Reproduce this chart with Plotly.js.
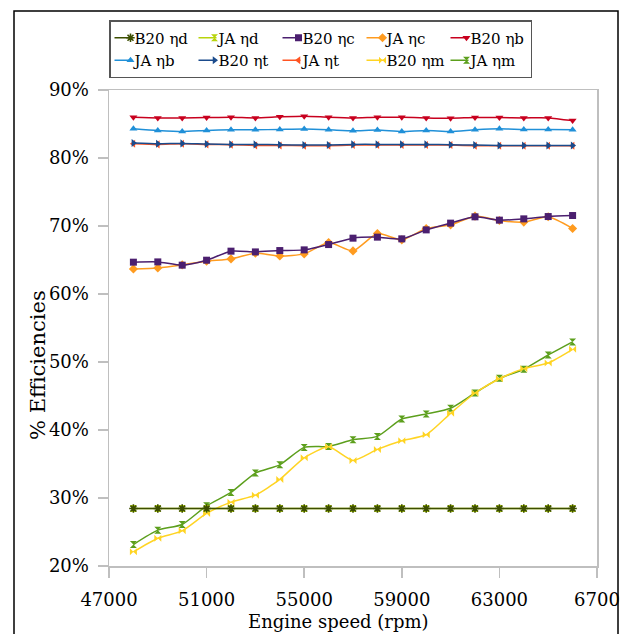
<!DOCTYPE html>
<html>
<head>
<meta charset="utf-8">
<script src="https://cdn.plot.ly/plotly-3.0.1.min.js"></script>
<style>html,body{margin:0;padding:0;background:#fff;}#chart{width:622px;height:634px;}</style>
</head>
<body>
<div id="chart"></div>
<script>
// Engine speed (rpm)
var rpm = [48000, 49000, 50000, 51000, 52000, 53000, 54000, 55000, 56000, 57000, 58000, 59000, 60000, 61000, 62000, 63000, 64000, 65000, 66000];

var b20_eta_d = [28.45, 28.45, 28.45, 28.45, 28.45, 28.45, 28.45, 28.45, 28.45, 28.45, 28.45, 28.45, 28.45, 28.45, 28.45, 28.45, 28.45, 28.45, 28.45];
var ja_eta_d  = [28.45, 28.45, 28.45, 28.45, 28.45, 28.45, 28.45, 28.45, 28.45, 28.45, 28.45, 28.45, 28.45, 28.45, 28.45, 28.45, 28.45, 28.45, 28.45];
var b20_eta_c = [64.68, 64.72, 64.24, 64.97, 66.3, 66.19, 66.39, 66.49, 67.27, 68.21, 68.36, 68.11, 69.43, 70.42, 71.35, 70.86, 71.05, 71.39, 71.54];
var ja_eta_c  = [63.69, 63.84, 64.28, 64.82, 65.16, 66.0, 65.6, 65.9, 67.56, 66.34, 68.89, 67.96, 69.63, 70.17, 71.45, 70.8, 70.57, 71.35, 69.63];
var b20_eta_b = [86.0, 85.9, 85.9, 85.95, 86.0, 85.9, 86.05, 86.15, 86.0, 85.9, 86.0, 86.0, 85.9, 85.85, 85.95, 85.95, 85.9, 85.9, 85.5];
var ja_eta_b  = [84.3, 84.05, 83.9, 84.05, 84.15, 84.15, 84.2, 84.25, 84.15, 84.0, 84.1, 83.9, 84.05, 83.9, 84.15, 84.3, 84.2, 84.2, 84.15];
var b20_eta_t = [82.2, 82.1, 82.15, 82.05, 82.0, 82.0, 81.95, 81.9, 81.9, 82.0, 82.0, 82.0, 82.0, 81.95, 81.9, 81.85, 81.85, 81.85, 81.85];
var ja_eta_t  = [82.1, 82.0, 82.1, 82.0, 81.95, 81.85, 81.85, 81.8, 81.8, 81.9, 81.9, 81.9, 81.9, 81.9, 81.8, 81.8, 81.8, 81.8, 81.8];
var b20_eta_m = [22.08, 24.09, 25.17, 27.73, 29.39, 30.42, 32.73, 35.91, 37.53, 35.53, 37.15, 38.42, 39.3, 42.45, 45.44, 47.54, 49.02, 49.85, 51.87];
var ja_eta_m  = [23.16, 25.27, 26.11, 28.85, 30.82, 33.66, 34.88, 37.44, 37.59, 38.56, 39.06, 41.61, 42.35, 43.19, 45.44, 47.6, 48.93, 51.03, 52.95];

var seriesNames = ['B20 ηd', 'JA ηd', 'B20 ηc', 'JA ηc', 'B20 ηb', 'JA ηb', 'B20 ηt', 'JA ηt', 'B20 ηm', 'JA ηm'];

var xTickVals = [47000, 51000, 55000, 59000, 63000, 67000];
var xTickText = ['47000', '51000', '55000', '59000', '63000', '6700'];
var yTickVals = [20, 30, 40, 50, 60, 70, 80, 90];
var yTickText = ['20%', '30%', '40%', '50%', '60%', '70%', '80%', '90%'];

var seriesData = [b20_eta_d, ja_eta_d, b20_eta_c, ja_eta_c, b20_eta_b, ja_eta_b, b20_eta_t, ja_eta_t, b20_eta_m, ja_eta_m];
var colors = ['#3c4e00', '#b8d40c', '#4b1f6f', '#ff9b1f', '#c8001e', '#2090d8', '#1b4b8c', '#ff5422', '#ffd423', '#5c9f1c'];
var symbols = ['asterisk-open', 'hourglass', 'square', 'diamond', 'triangle-down', 'triangle-up', 'triangle-right', 'triangle-left', 'bowtie', 'hourglass'];

var traces = seriesData.map(function (vals, i) {
  var open = symbols[i].indexOf('open') >= 0;
  return {
    x: rpm, y: vals, name: seriesNames[i], legendrank: i + 1,
    type: 'scatter', mode: 'lines+markers',
    line: {color: colors[i], width: 1.5, shape: 'spline', smoothing: 0.6},
    marker: {symbol: symbols[i], size: 7, color: colors[i],
             line: {color: colors[i], width: open ? 1.6 : 0}}
  };
});
// draw order: later-listed series underneath, so B20 ηd sits on top as in the reference
traces.reverse();

var font = 'DejaVu Serif, serif';
var L = 109, R = 25, T = 90, B = 68, W = 622, H = 634;
var pw = W - L - R, ph = H - T - B;
function px2x(px) { return (px - L) / pw; }
function px2y(py) { return (H - B - py) / ph; }

var layout = {
  width: W, height: H,
  margin: {l: L, r: R, t: T, b: B, pad: 0},
  paper_bgcolor: '#ffffff', plot_bgcolor: '#ffffff',
  font: {family: font, size: 18, color: '#000'},
  showlegend: true,
  legend: {
    orientation: 'h', x: 0, y: px2y(20), xanchor: 'left', yanchor: 'top',
    bordercolor: '#555555', borderwidth: 1.5, bgcolor: '#ffffff',
    font: {family: font, size: 15, color: '#000'},
    entrywidth: 39, entrywidthmode: 'pixels', traceorder: 'normal',
    itemwidth: 30
  },
  xaxis: {
    range: [47000, 67000], tickmode: 'array', tickvals: xTickVals, ticktext: xTickText,
    showgrid: false, zeroline: false, showline: true, linecolor: '#bfbfbf', linewidth: 1.5,
    mirror: true, ticks: 'outside', ticklen: 10, tickcolor: '#bfbfbf', tickwidth: 1.5,
    ticklabelstandoff: 7,
    tickfont: {family: font, size: 18, color: '#000'}
  },
  yaxis: {
    range: [20, 90], tickmode: 'array', tickvals: yTickVals, ticktext: yTickText,
    showgrid: false, zeroline: false, showline: true, linecolor: '#bfbfbf', linewidth: 1.5,
    mirror: true, ticks: 'outside', ticklen: 10, tickcolor: '#bfbfbf', tickwidth: 1.5,
    ticklabelstandoff: 5,
    tickfont: {family: font, size: 18, color: '#000'}
  },
  annotations: [
    {text: '% Efficiencies', xref: 'paper', yref: 'paper', x: px2x(38), y: px2y(365),
     textangle: -90, showarrow: false, xanchor: 'center', yanchor: 'middle',
     font: {family: font, size: 21, color: '#000'}},
    {text: 'Engine speed (rpm)', xref: 'paper', yref: 'paper', x: px2x(338), y: px2y(621),
     showarrow: false, xanchor: 'center', yanchor: 'middle',
     font: {family: font, size: 18, color: '#000'}}
  ],
  shapes: [
    {type: 'rect', xref: 'paper', yref: 'paper', x0: px2x(14), x1: px2x(618), y0: px2y(645), y1: px2y(11),
     line: {color: '#000', width: 1.5}, fillcolor: 'rgba(0,0,0,0)', layer: 'below'}
  ]
};

Plotly.newPlot('chart', traces, layout, {displayModeBar: false, staticPlot: true}).then(function (gd) {
  // compact legend keys: short line sample and text right after it
  var items = gd.querySelectorAll('.legend .traces');
  items.forEach(function (it) {
    var line = it.querySelector('.legendlines path');
    if (line) line.setAttribute('d', 'M4,0h18');
    var pts = it.querySelectorAll('.legendpoints .scatterpts path');
    pts.forEach(function (p) { p.setAttribute('transform', 'translate(13,0)'); });
    var txt = it.querySelector('text.legendtext');
    if (txt) {
      txt.setAttribute('x', '24');
      txt.querySelectorAll('tspan').forEach(function (s) { if (s.getAttribute('x')) s.setAttribute('x', '24'); });
    }
  });
});
</script>
</body>
</html>
